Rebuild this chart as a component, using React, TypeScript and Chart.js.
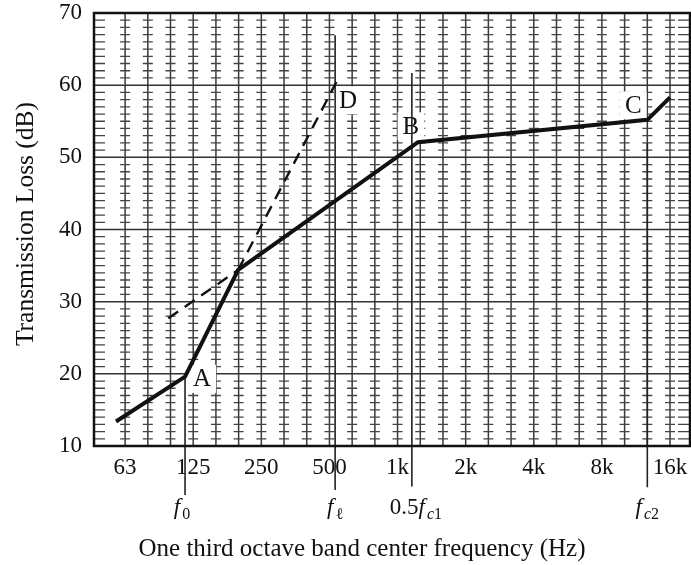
import React, { useEffect, useRef } from "react";
import { Chart, registerables } from "chart.js";

Chart.register(...registerables);

// x axis: one-third-octave band index (0 = 63 Hz, 3 = 125 Hz, ..., 24 = 16 kHz)
const X_MIN = -1.37;
const X_MAX = 24.88;
const bandLines = [0, 1, 2, 3, 4, 5, 6, 7, 8, 9, 10, 11, 12, 13, 14, 15, 16, 17, 18, 19, 20, 21, 22, 23, 24];
const xTickIndex = [0, 3, 6, 9, 12, 15, 18, 21, 24];
const xTickLabels = ["63", "125", "250", "500", "1k", "2k", "4k", "8k", "16k"];
const yTickValues = [10, 20, 30, 40, 50, 60, 70];

// transmission loss curve (solid)
const tlIndex = [-0.4, 2.64, 4.98, 12.9, 23.0, 24.0];
const tlDb = [13.4, 19.6, 34.4, 52.1, 55.2, 58.3];

// dashed extensions
const lowExtIndex = [1.9, 4.98];
const lowExtDb = [27.7, 34.4];
const steepExtIndex = [4.98, 9.45];
const steepExtDb = [34.4, 61.3];

// characteristic-frequency marker lines
const markerIndex = [2.64, 9.25, 12.63, 23.0];
const markerTopDb = [19.6, 66.9, 61.7, 52.0];
const markerBottomDb = [3.2, 3.9, 4.4, 4.3];

// point letters
const pointNames = ["A", "B", "C", "D"];
const pointIndex = [3.39, 12.59, 22.38, 9.82];
const pointDb = [19.3, 54.3, 57.2, 57.9];

const SERIF = "'Liberation Serif', 'Times New Roman', serif";
const INK = "#111";

type Part = { t: string; italic?: boolean; size: number; dy?: number };

const markerLabelParts: Part[][] = [
  [{ t: "f", italic: true, size: 23 }, { t: "0", size: 16, dy: 5 }],
  [{ t: "f", italic: true, size: 23 }, { t: "\u2113", size: 16, dy: 5 }],
  [{ t: "0.5", size: 23 }, { t: "f", italic: true, size: 23 }, { t: "c", italic: true, size: 16, dy: 5 }, { t: "1", size: 16, dy: 5 }],
  [{ t: "f", italic: true, size: 23 }, { t: "c", italic: true, size: 16, dy: 5 }, { t: "2", size: 16, dy: 5 }],
];
const markerLabelShift = [-3, 0, 4, 0];

function fontOf(p: Part) {
  return `${p.italic ? "italic " : ""}${p.size}px ${SERIF}`;
}

function drawParts(ctx: CanvasRenderingContext2D, parts: Part[], cx: number, baseline: number) {
  let total = 0;
  const widths = parts.map((p) => {
    ctx.font = fontOf(p);
    const w = ctx.measureText(p.t).width + (p.italic && p.t === "f" ? 2 : 0);
    total += w;
    return w;
  });
  let x = cx - total / 2;
  ctx.textAlign = "left";
  ctx.textBaseline = "alphabetic";
  parts.forEach((p, i) => {
    ctx.font = fontOf(p);
    ctx.fillText(p.t, x, baseline + (p.dy || 0));
    x += widths[i];
  });
}

const paperPlugin = {
  id: "paper",
  beforeDatasetsDraw(chart: any) {
    const { ctx, chartArea: a, scales } = chart;
    const xs = scales.x;
    const ys = scales.y;
    ctx.save();
    // vertical band lines
    ctx.strokeStyle = "#3a3a3a";
    ctx.lineWidth = 1.5;
    ctx.beginPath();
    bandLines.forEach((b) => {
      const px = xs.getPixelForValue(b);
      ctx.moveTo(px, a.top);
      ctx.lineTo(px, a.bottom);
    });
    ctx.stroke();
    // horizontal major lines
    ctx.strokeStyle = "#333";
    ctx.lineWidth = 1.5;
    ctx.beginPath();
    yTickValues.forEach((v) => {
      const py = ys.getPixelForValue(v);
      ctx.moveTo(a.left, py);
      ctx.lineTo(a.right, py);
    });
    ctx.stroke();
    // 1 dB ladder ticks
    ctx.strokeStyle = "#444";
    ctx.lineWidth = 1.3;
    ctx.beginPath();
    for (let v = ys.min + 1; v < ys.max; v += 1) {
      if (v % 10 === 0) continue;
      const py = ys.getPixelForValue(v);
      bandLines.forEach((b) => {
        const px = xs.getPixelForValue(b);
        ctx.moveTo(px - 5, py);
        ctx.lineTo(px + 5, py);
      });
      ctx.moveTo(a.left, py);
      ctx.lineTo(a.left + 11, py);
      ctx.moveTo(a.right - 12, py);
      ctx.lineTo(a.right, py);
    }
    ctx.stroke();
    // point letters on white boxes
    ctx.font = `25px ${SERIF}`;
    ctx.textAlign = "center";
    ctx.textBaseline = "middle";
    pointNames.forEach((n, i) => {
      const px = xs.getPixelForValue(pointIndex[i]);
      const py = ys.getPixelForValue(pointDb[i]);
      const w = ctx.measureText(n).width + 10;
      ctx.fillStyle = "#fff";
      ctx.fillRect(px - w / 2, py - 14, w, 28);
      ctx.fillStyle = INK;
      ctx.fillText(n, px, py + 1);
    });
    ctx.restore();
  },
  afterDatasetsDraw(chart: any) {
    const { ctx, chartArea: a, scales } = chart;
    const xs = scales.x;
    ctx.save();
    // frame
    ctx.strokeStyle = INK;
    ctx.lineWidth = 2.5;
    ctx.strokeRect(a.left, a.top, a.right - a.left, a.bottom - a.top);
    // marker labels
    ctx.fillStyle = INK;
    markerLabelParts.forEach((parts, i) => {
      const px = xs.getPixelForValue(markerIndex[i]) + markerLabelShift[i];
      drawParts(ctx, parts, px, 514);
    });
    // axis titles
    ctx.font = `25px ${SERIF}`;
    ctx.textAlign = "center";
    ctx.textBaseline = "alphabetic";
    ctx.fillText("One third octave band center frequency (Hz)", 362, 556);
    ctx.translate(26, 224);
    ctx.rotate(-Math.PI / 2);
    ctx.textBaseline = "middle";
    ctx.font = `25.5px ${SERIF}`;
    ctx.fillText("Transmission Loss (dB)", 0, 0);
    ctx.restore();
  },
};

function pts(xv: number[], yv: number[]) {
  return xv.map((x, i) => ({ x, y: yv[i] }));
}

export default function App() {
  const ref = useRef<HTMLCanvasElement | null>(null);
  useEffect(() => {
    if (!ref.current) return;
    const markerSets = markerIndex.map((mx, i) => ({
      data: [
        { x: mx, y: markerTopDb[i] },
        { x: mx, y: markerBottomDb[i] },
      ],
      borderColor: "#222",
      borderWidth: 1.6,
      pointRadius: 0,
      clip: false as any,
    }));
    const chart = new Chart(ref.current, {
      type: "line",
      data: {
        datasets: [
          {
            data: pts(tlIndex, tlDb),
            borderColor: INK,
            borderWidth: 4,
            pointRadius: 0,
            borderJoinStyle: "miter",
          },
          {
            data: pts(lowExtIndex, lowExtDb),
            borderColor: INK,
            borderWidth: 2.4,
            borderDash: [12, 8],
            pointRadius: 0,
          },
          {
            data: pts(steepExtIndex, steepExtDb),
            borderColor: INK,
            borderWidth: 2.4,
            borderDash: [12, 8],
            pointRadius: 0,
          },
          ...markerSets,
        ] as any,
      },
      plugins: [paperPlugin],
      options: {
        animation: false,
        responsive: false,
        devicePixelRatio: 1,
        layout: { padding: { top: 13, right: 1, left: 0, bottom: 0 } },
        plugins: { legend: { display: false }, tooltip: { enabled: false } },
        elements: { line: { tension: 0 } },
        scales: {
          x: {
            type: "linear",
            min: X_MIN,
            max: X_MAX,
            grid: { display: false, drawTicks: false },
            border: { display: false },
            afterBuildTicks: (s: any) => {
              s.ticks = xTickIndex.map((v) => ({ value: v }));
            },
            afterFit: (s: any) => {
              s.height = 119;
              s.paddingLeft = 0;
              s.paddingRight = 0;
            },
            ticks: {
              autoSkip: false,
              maxRotation: 0,
              padding: 8,
              color: INK,
              font: { family: SERIF, size: 23 },
              callback: (v: any) => {
                const k = xTickIndex.indexOf(Number(v));
                return k >= 0 ? xTickLabels[k] : "";
              },
            },
          },
          y: {
            type: "linear",
            min: 10,
            max: 70,
            grid: { display: false, drawTicks: false },
            border: { display: false },
            afterBuildTicks: (s: any) => {
              s.ticks = yTickValues.map((v) => ({ value: v }));
            },
            afterFit: (s: any) => {
              s.width = 94;
              s.paddingTop = 0;
              s.paddingBottom = 0;
            },
            ticks: {
              padding: 12,
              color: INK,
              font: { family: SERIF, size: 23 },
            },
          },
        },
      } as any,
    });
    return () => chart.destroy();
  }, []);
  return (
    <div style={{ position: "fixed", left: 0, top: 0, width: 691, height: 565, background: "#fff" }}>
      <canvas ref={ref} width={691} height={565} style={{ width: 691, height: 565, display: "block" }} />
    </div>
  );
}
